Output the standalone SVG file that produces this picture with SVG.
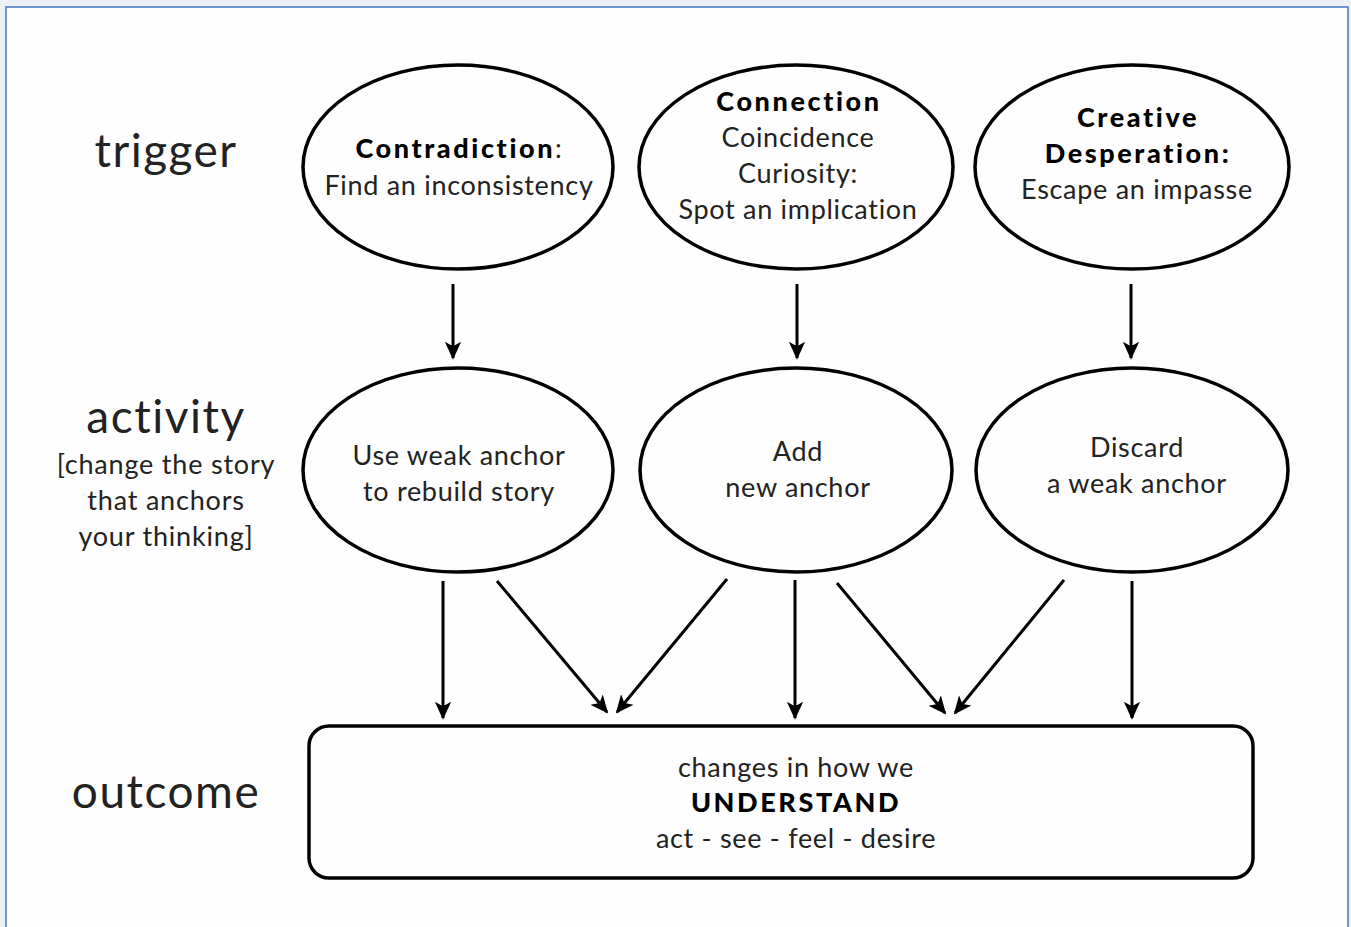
<svg xmlns="http://www.w3.org/2000/svg" width="1351" height="927" viewBox="0 0 1351 927">
<defs>
<style>
.bg{fill:#eef2f7}
.frame{fill:#fefefe;stroke:#3d78c6;stroke-width:1.5}
.node{fill:none;stroke:#000;stroke-width:3.5}
.t{font-family:Lato,"Open Sans","Liberation Sans",sans-serif;fill:#222;text-anchor:middle}
.lab{font-size:46px;letter-spacing:1.5px}
.sub{font-size:27px;letter-spacing:0.8px}
.n{font-size:27px;letter-spacing:0.7px}
.b{font-weight:900;fill:#000;letter-spacing:2.6px}
.conn line{stroke:#000;stroke-width:3}
</style>
<marker id="ah" viewBox="0 0 20 20" refX="18" refY="10" markerWidth="6" markerHeight="6" markerUnits="strokeWidth" orient="auto">
<path d="M0,1 L20,10 L0,19 L5,10 Z" fill="#000"/>
</marker>
</defs>
<rect class="bg" x="0" y="0" width="1351" height="927"/>
<rect class="frame" x="6" y="7" width="1342" height="930"/>

<g id="labels">
<text class="t lab" x="166" y="167">trigger</text>
<text class="t lab" x="166" y="433">activity</text>
<text class="t sub" x="166" y="474">[change the story</text>
<text class="t sub" x="166" y="510">that anchors</text>
<text class="t sub" x="166" y="546">your thinking]</text>
<text class="t lab" x="166" y="808">outcome</text>
</g>

<g id="contradiction">
<ellipse class="node" cx="458" cy="167" rx="155" ry="102"/>
<text class="t n" x="459" y="158"><tspan class="b">Contradiction</tspan>:</text>
<text class="t n" x="459" y="195">Find an inconsistency</text>
</g>
<g id="connection">
<ellipse class="node" cx="796" cy="167" rx="157" ry="102"/>
<text class="t n b" x="799" y="111">Connection</text>
<text class="t n" x="798" y="147">Coincidence</text>
<text class="t n" x="798" y="183">Curiosity:</text>
<text class="t n" x="798" y="219">Spot an implication</text>
</g>
<g id="creative">
<ellipse class="node" cx="1132" cy="167" rx="157" ry="102"/>
<text class="t n b" x="1138" y="127">Creative</text>
<text class="t n b" x="1138" y="163">Desperation:</text>
<text class="t n" x="1137" y="199">Escape an impasse</text>
</g>

<g id="use-weak">
<ellipse class="node" cx="458" cy="470" rx="155" ry="102"/>
<text class="t n" x="459" y="465">Use weak anchor</text>
<text class="t n" x="459" y="501">to rebuild story</text>
</g>
<g id="add-new">
<ellipse class="node" cx="796" cy="470" rx="156" ry="102"/>
<text class="t n" x="798" y="461">Add</text>
<text class="t n" x="798" y="497">new anchor</text>
</g>
<g id="discard">
<ellipse class="node" cx="1132" cy="470" rx="156" ry="102"/>
<text class="t n" x="1137" y="457">Discard</text>
<text class="t n" x="1137" y="493">a weak anchor</text>
</g>

<g id="outcome">
<rect class="node" x="309" y="726" width="944" height="152" rx="20"/>
<text class="t n" x="796" y="777">changes in how we</text>
<text class="t n b" x="796" y="812">UNDERSTAND</text>
<text class="t n" x="796" y="848">act - see - feel - desire</text>
</g>

<g id="connectors" class="conn">
<line x1="453" y1="284" x2="453" y2="358" marker-end="url(#ah)"/>
<line x1="797" y1="284" x2="797" y2="358" marker-end="url(#ah)"/>
<line x1="1131" y1="284" x2="1131" y2="358" marker-end="url(#ah)"/>
<line x1="443" y1="581" x2="443" y2="718" marker-end="url(#ah)"/>
<line x1="497" y1="581" x2="607" y2="712" marker-end="url(#ah)"/>
<line x1="727" y1="579" x2="617" y2="712" marker-end="url(#ah)"/>
<line x1="795" y1="580" x2="795" y2="718" marker-end="url(#ah)"/>
<line x1="837" y1="583" x2="945" y2="713" marker-end="url(#ah)"/>
<line x1="1064" y1="580" x2="955" y2="713" marker-end="url(#ah)"/>
<line x1="1132" y1="581" x2="1132" y2="718" marker-end="url(#ah)"/>
</g>
</svg>
